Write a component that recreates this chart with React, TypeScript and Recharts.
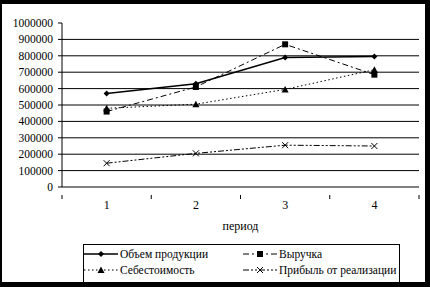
import React from 'react';
import { LineChart, Line, XAxis, YAxis, CartesianGrid } from 'recharts';

const periods = [1, 2, 3, 4];
const volume = [570000, 630000, 790000, 795000];
const revenue = [460000, 610000, 870000, 685000];
const cost = [480000, 505000, 595000, 715000];
const profit = [145000, 205000, 255000, 250000];

const seriesNames = ['Объем продукции', 'Выручка', 'Себестоимость', 'Прибыль от реализации'];
const yTicks = [0, 100000, 200000, 300000, 400000, 500000, 600000, 700000, 800000, 900000, 1000000];
const gridValues = [100000, 200000, 300000, 400000, 500000, 600000, 700000, 800000, 900000];
const xTicks = [0.5, 1, 1.5, 2, 2.5, 3, 3.5, 4, 4.5];

const data = periods.map((p, i) => ({
  period: p,
  volume: volume[i],
  revenue: revenue[i],
  cost: cost[i],
  profit: profit[i],
}));

const FONT = '"Liberation Serif", "Times New Roman", serif';

type Marker = 'diamond' | 'square' | 'triangle' | 'cross';

const drawMarker = (kind: Marker, cx: number, cy: number) => {
  if (kind === 'diamond') {
    return <polygon points={`${cx},${cy - 3} ${cx + 3},${cy} ${cx},${cy + 3} ${cx - 3},${cy}`} fill="#000" />;
  }
  if (kind === 'square') {
    return <rect x={cx - 3} y={cy - 3} width={6} height={6} fill="#000" />;
  }
  if (kind === 'triangle') {
    return <polygon points={`${cx},${cy - 3.5} ${cx + 3.5},${cy + 3} ${cx - 3.5},${cy + 3}`} fill="#000" />;
  }
  return (
    <g stroke="#000" strokeWidth={1}>
      <line x1={cx - 3} y1={cy - 3} x2={cx + 3} y2={cy + 3} />
      <line x1={cx - 3} y1={cy + 3} x2={cx + 3} y2={cy - 3} />
    </g>
  );
};

const makeDot = (kind: Marker) => (props: any) => {
  const { cx, cy, index } = props;
  if (cx == null || cy == null) return <g key={index} />;
  return <g key={index}>{drawMarker(kind, cx, cy)}</g>;
};

const series: { key: string; dash?: string; width: number; marker: Marker }[] = [
  { key: 'volume', width: 1.5, marker: 'diamond' },
  { key: 'revenue', dash: '6 3 2 3', width: 1, marker: 'square' },
  { key: 'cost', dash: '1.5 2.5', width: 1, marker: 'triangle' },
  { key: 'profit', dash: '6 2 2 2 2 2', width: 1, marker: 'cross' },
];

const XTick = (props: any) => {
  const { x, y, payload } = props;
  const v = payload.value;
  if (Number.isInteger(v)) {
    return (
      <text x={x} y={y + 14} textAnchor="middle" fontFamily={FONT} fontSize={12} fill="#000">
        {v}
      </text>
    );
  }
  return <line x1={x} y1={y} x2={x} y2={y + 4} stroke="#000" strokeWidth={1} />;
};

const LegendIcon = ({ dash, width, marker }: { dash?: string; width: number; marker: Marker }) => (
  <svg width={34} height={10} style={{ display: 'block' }}>
    <line x1={0} y1={5} x2={34} y2={5} stroke="#000" strokeWidth={width} strokeDasharray={dash} />
    {drawMarker(marker, 17, 5)}
  </svg>
);

export default function App() {
  return (
    <div style={{ position: 'absolute', left: 0, top: 0, width: 430, height: 287, background: '#fff', fontFamily: FONT }}>
      <LineChart width={430} height={287} data={data} margin={{ top: 23, right: 11, bottom: 48, left: 0 }}>
        <CartesianGrid vertical={false} horizontalValues={gridValues} stroke="#000" strokeWidth={1} />
        <XAxis
          dataKey="period"
          type="number"
          domain={[0.5, 4.5]}
          ticks={xTicks}
          interval={0}
          tick={<XTick />}
          tickLine={false}
          axisLine={{ stroke: '#000' }}
          height={52}
          label={{ value: 'период', position: 'insideBottom', offset: 9, fontFamily: FONT, fontSize: 12, fill: '#000' }}
        />
        <YAxis
          domain={[0, 1000000]}
          ticks={yTicks}
          interval={0}
          width={62}
          tickSize={4}
          tickMargin={5}
          tickLine={{ stroke: '#000' }}
          axisLine={{ stroke: '#000' }}
          tick={{ fontFamily: FONT, fontSize: 11.5, fill: '#000' }}
        />
        {series.map((s) => (
          <Line
            key={s.key}
            dataKey={s.key}
            type="linear"
            stroke="#000"
            strokeWidth={s.width}
            strokeDasharray={s.dash}
            dot={makeDot(s.marker)}
            activeDot={false}
            isAnimationActive={false}
          />
        ))}
      </LineChart>
      <div
        style={{
          position: 'absolute',
          left: 83,
          top: 244,
          width: 317,
          height: 40,
          border: '1px solid #000',
          display: 'grid',
          gridTemplateColumns: '159px 156px',
          rowGap: 3,
          fontFamily: FONT,
          fontSize: 11.5,
          lineHeight: '13px',
          boxSizing: 'border-box',
          padding: '0 0 4px 0',
          alignContent: 'center',
        }}
      >
        {series.map((s, i) => (
          <div key={s.key} style={{ display: 'flex', alignItems: 'center', whiteSpace: 'nowrap' }}>
            <LegendIcon dash={s.dash} width={s.width} marker={s.marker} />
            <span style={{ marginLeft: 2 }}>{seriesNames[i]}</span>
          </div>
        ))}
      </div>
      <div
        style={{
          position: 'absolute',
          left: 0,
          top: 0,
          width: 430,
          height: 287,
          boxSizing: 'border-box',
          borderStyle: 'solid',
          borderColor: '#000',
          borderWidth: '4px 5px 5px 2px',
          pointerEvents: 'none',
        }}
      />
    </div>
  );
}
